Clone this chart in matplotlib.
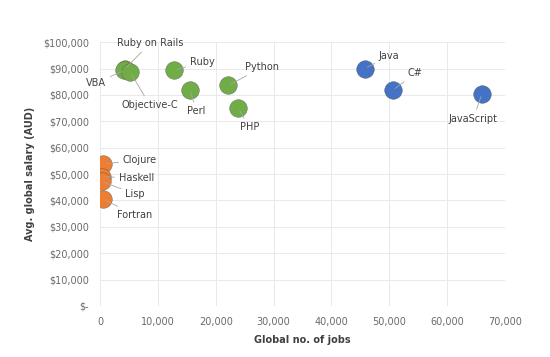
import matplotlib
matplotlib.use("Agg")
from matplotlib import pyplot as plt
from matplotlib.ticker import FuncFormatter

# data: (language, jobs, salary)
green_names = ["Ruby on Rails", "VBA", "Objective-C", "Ruby", "Perl", "Python", "PHP"]
green_jobs = [4300, 4200, 5200, 12850, 15500, 22200, 23900]
green_salary = [89800, 89300, 88700, 89300, 82000, 83600, 74900]

orange_names = ["Clojure", "Haskell", "Lisp", "Fortran"]
orange_jobs = [550, 300, 250, 550]
orange_salary = [53800, 49000, 47200, 40400]

blue_names = ["Java", "C#", "JavaScript"]
blue_jobs = [45800, 50600, 66000]
blue_salary = [90000, 81800, 80300]

# label offsets in points (dx, dy, ha, va)
offsets = {
    "Ruby on Rails": (18, 15, "center", "bottom"),
    "VBA": (-13, -9, "right", "center"),
    "Objective-C": (14, -20, "center", "top"),
    "Ruby": (11, 6, "left", "center"),
    "Perl": (5, -12, "center", "top"),
    "Python": (12, 13, "left", "center"),
    "PHP": (8, -10, "center", "top"),
    "Java": (10, 9, "left", "center"),
    "C#": (11, 12, "left", "center"),
    "JavaScript": (-6, -14, "center", "top"),
    "Clojure": (14, 3, "left", "center"),
    "Haskell": (12, -1, "left", "center"),
    "Lisp": (17, -9, "left", "center"),
    "Fortran": (10, -11, "left", "center"),
}

plt.rcParams['font.family'] = ['Liberation Sans Narrow', 'DejaVu Sans']

fig = plt.figure(figsize=(5.5, 3.57), dpi=100)
ax = fig.add_axes([0.182, 0.143, 0.736, 0.739])

groups = [
    (green_names, green_jobs, green_salary, "#70AD47"),
    (orange_names, orange_jobs, orange_salary, "#ED7D31"),
    (blue_names, blue_jobs, blue_salary, "#4472C4"),
]
for names, xs, ys, col in groups:
    ax.scatter(xs, ys, s=160, color=col, edgecolors="#5a5a5a", linewidths=0.3, zorder=3)
    for n, x, y in zip(names, xs, ys):
        dx, dy, ha, va = offsets[n]
        ax.annotate(n, (x, y), xytext=(dx, dy), textcoords="offset points",
                    ha=ha, va=va, fontsize=7, color="#404040",
                    arrowprops=dict(arrowstyle="-", color="#a6a6a6", lw=0.6,
                                    shrinkA=1, shrinkB=2),
                    zorder=4)

ax.set_xlim(0, 70000)
ax.set_ylim(0, 100000)
ax.set_xticks(range(0, 70001, 10000))
ax.set_yticks(range(0, 100001, 10000))
ax.xaxis.set_major_formatter(FuncFormatter(lambda v, p: "0" if v == 0 else "{:,.0f}".format(v)))
ax.yaxis.set_major_formatter(FuncFormatter(lambda v, p: "$-" if v == 0 else "${:,.0f}".format(v)))
ax.tick_params(length=0, labelsize=7, labelcolor="#6a6a6a", pad=8)
ax.grid(True, color="#e9e9e9", lw=0.7)
ax.set_axisbelow(True)
for s in ax.spines.values():
    s.set_visible(False)

ax.set_xlabel("Global no. of jobs", fontsize=7, fontweight="bold", color="#404040", labelpad=6)
ax.set_ylabel("Avg. global salary (AUD)", fontsize=7, fontweight="bold", color="#404040", labelpad=6)

fig.savefig("out.png", dpi=100)
